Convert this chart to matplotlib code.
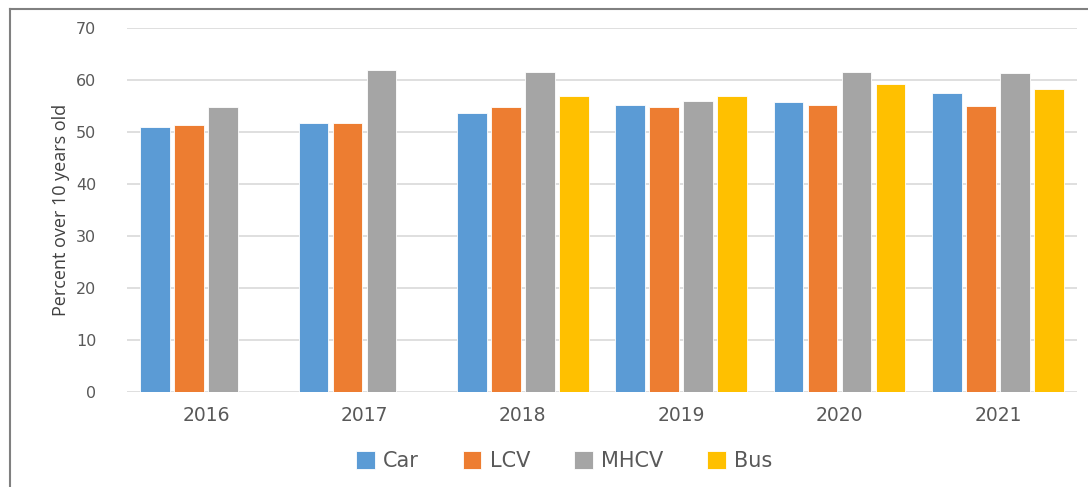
import numpy as np
import matplotlib.pyplot as plt
from matplotlib.lines import Line2D

# data
years = ['2016', '2017', '2018', '2019', '2020', '2021']
car = [50.9, 51.8, 53.7, 55.2, 55.8, 57.5]
lcv = [51.3, 51.8, 54.9, 54.9, 55.1, 55.0]
mhcv = [54.8, 62.0, 61.6, 55.9, 61.5, 61.4]
bus = [np.nan, np.nan, 57.0, 57.0, 59.2, 58.3]

series = [('Car', car, '#5B9BD5'), ('LCV', lcv, '#ED7D31'),
          ('MHCV', mhcv, '#A5A5A5'), ('Bus', bus, '#FFC000')]

txt = '#595959'
plt.rcParams['font.family'] = ['DejaVu Sans']

fig = plt.figure(figsize=(10.88, 4.87), dpi=100)
ax = fig.add_axes([0.1167, 0.195, 0.8733, 0.7475])

x = np.arange(len(years))
step = 0.215
width = 0.187
for i, (name, vals, col) in enumerate(series):
    ax.bar(x + (i - 1.5) * step, vals, width, color=col, label=name,
           edgecolor='white', linewidth=0.6, zorder=3)

ax.set_xlim(-0.5, len(years) - 0.5)
ax.set_ylim(0, 70)
ax.set_yticks(range(0, 71, 10))
ax.set_xticks(x)
ax.set_xticklabels(years)
ax.yaxis.grid(True, color='#D9D9D9', linewidth=1.2, zorder=0)
for s in ax.spines.values():
    s.set_visible(False)
ax.tick_params(axis='both', length=0, colors=txt)
ax.tick_params(axis='y', labelsize=11.5, pad=22)
ax.tick_params(axis='x', labelsize=13.5, pad=10)

ax.set_ylabel('Percent over 10 years old', fontsize=13, color='#404040',
              family=['Open Sans', 'DejaVu Sans'], labelpad=4)

ax.legend(loc='center', bbox_to_anchor=(0.46, -0.19), ncol=4, frameon=False,
          fontsize=15, labelcolor=txt, handlelength=0.9, handleheight=0.9,
          handletextpad=0.4, columnspacing=2.1)

# outer chart frame (left and top edges visible)
fig.add_artist(Line2D([10 / 1088, 10 / 1088], [0, 1 - 9 / 487],
                      transform=fig.transFigure, color='#808080', linewidth=1.5))
fig.add_artist(Line2D([10 / 1088, 1], [1 - 9 / 487, 1 - 9 / 487],
                      transform=fig.transFigure, color='#808080', linewidth=1.5))

fig.savefig('out.png', dpi=100)
